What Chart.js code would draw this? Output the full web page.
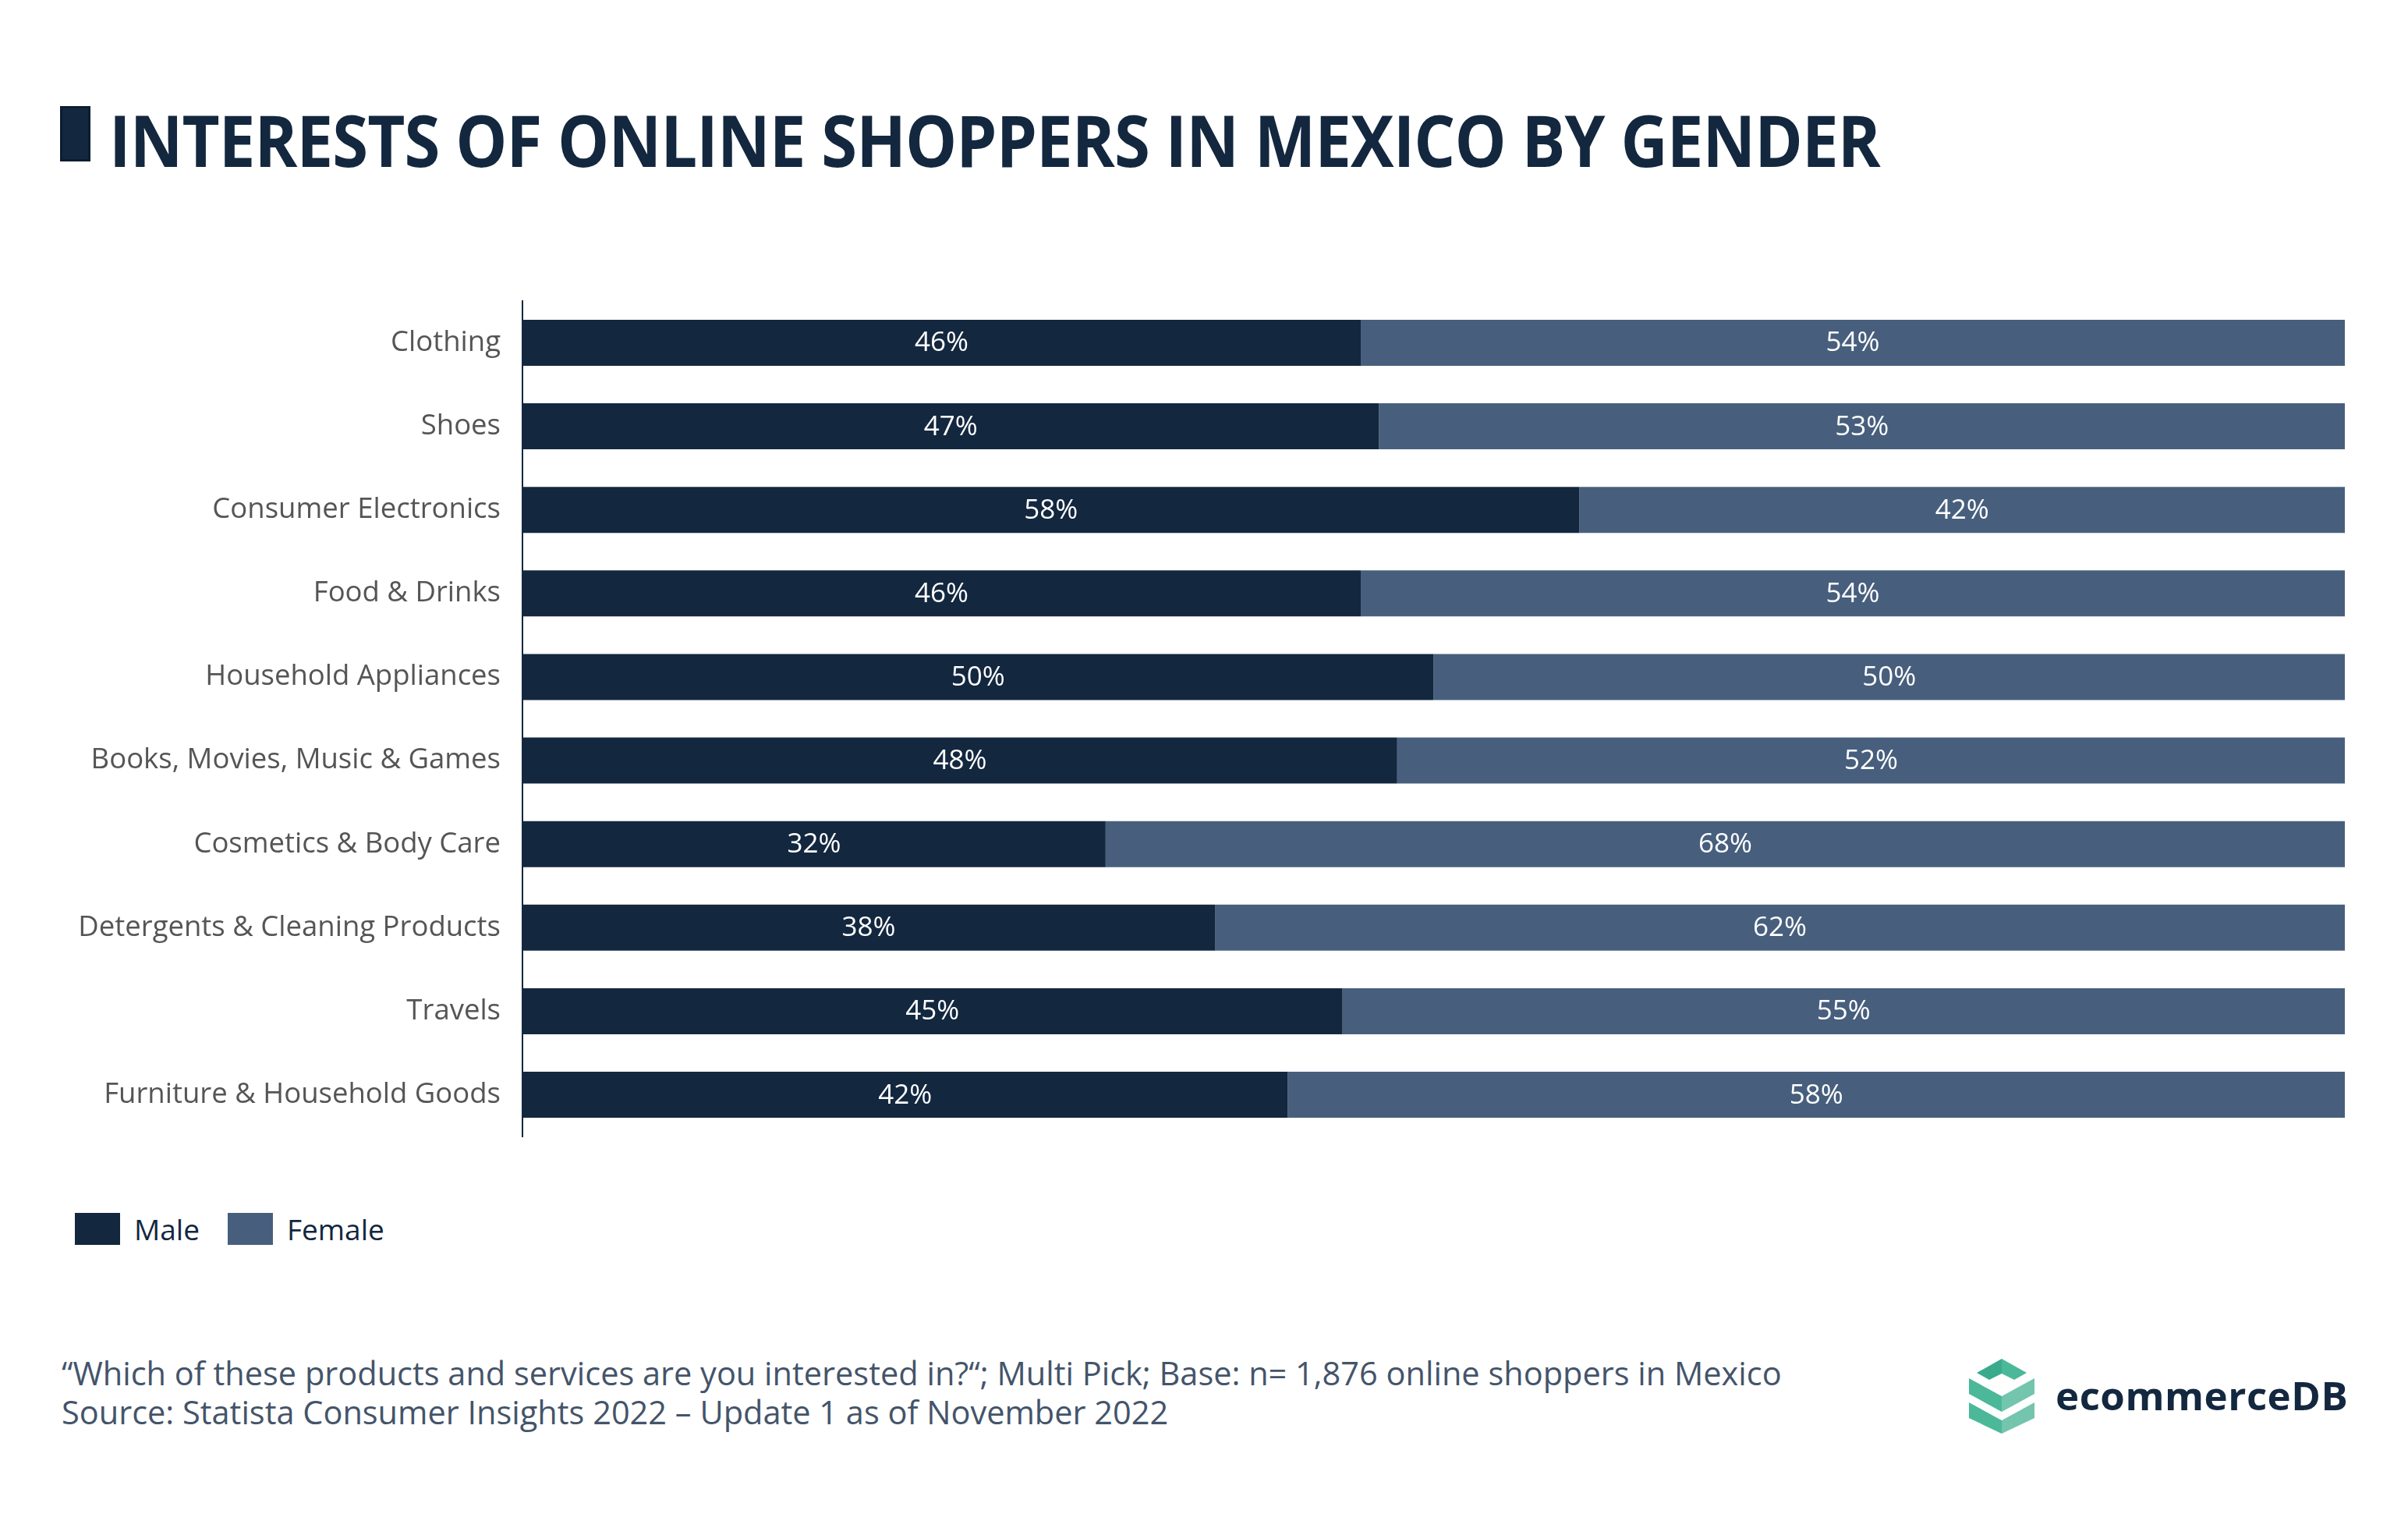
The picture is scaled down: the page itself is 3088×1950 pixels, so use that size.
<!DOCTYPE html>
<html>
<head>
<meta charset="utf-8">
<script src="https://cdn.jsdelivr.net/npm/chart.js@4.4.0/dist/chart.umd.min.js"></script>
<style>
  html, body { margin: 0; padding: 0; background: #fff; }
  body { width: 3088px; height: 1950px; position: relative; overflow: hidden; font-family: "Open Sans", sans-serif; }
  #mark { position: absolute; left: 77px; top: 136px; width: 39px; height: 71px; background: #13273f; box-sizing: border-box; border: 3px solid #0d1d30; }
  #title { position: absolute; left: 140px; top: 116px; font-size: 92px; font-weight: 700; color: #13273f; white-space: nowrap; letter-spacing: -1px; transform: scaleX(0.905); transform-origin: 0 0; }
  #wrap { position: absolute; left: 0; top: 336px; width: 3007px; height: 1171px; }
  #legend { position: absolute; left: 96px; top: 1550px; display: flex; align-items: center; font-size: 37px; color: #13273f; }
  #legend .item { display: flex; align-items: center; margin-right: 36px; }
  #legend .sw { width: 58px; height: 41px; margin-right: 18px; }
  #foot { position: absolute; left: 79px; top: 1735px; font-size: 41.5px; line-height: 50px; color: #44546a; white-space: nowrap; }
  #logo { position: absolute; left: 2524px; top: 1742px; }
  #logotext { position: absolute; left: 2636px; top: 1753px; font-size: 51px; font-weight: 700; color: #13273f; letter-spacing: 0.5px; }
</style>
</head>
<body>
<div id="mark"></div>
<div id="title">INTERESTS OF ONLINE SHOPPERS IN MEXICO BY GENDER</div>
<div id="wrap"><canvas id="chart"></canvas></div>
<div id="legend"></div>
<div id="foot">“Which of these products and services are you interested in?“; Multi Pick; Base: n= 1,876 online shoppers in Mexico<br>Source: Statista Consumer Insights 2022 – Update 1 as of November 2022</div>
<svg id="logo" width="86" height="96" viewBox="0 0 84 96">
  <polygon points="10,18 42,0 42,19 26,27" fill="#3aaa8c"/>
  <polygon points="42,0 74,18 58,27 42,19" fill="#4cb89a"/>
  <polygon points="0,25 42,48 42,68 0,45" fill="#4cb89a"/>
  <polygon points="42,48 84,25 84,45 42,68" fill="#73c5ad"/>
  <polygon points="0,56 42,79 42,96 0,76" fill="#4cb89a"/>
  <polygon points="42,79 84,56 84,76 42,96" fill="#73c5ad"/>
</svg>
<div id="logotext">ecommerceDB</div>
<script>
const categories = ['Clothing', 'Shoes', 'Consumer Electronics', 'Food & Drinks', 'Household Appliances',
  'Books, Movies, Music & Games', 'Cosmetics & Body Care', 'Detergents & Cleaning Products', 'Travels',
  'Furniture & Household Goods'];
const male = [46, 47, 58, 46, 50, 48, 32, 38, 45, 42];
const female = [54, 53, 42, 54, 50, 52, 68, 62, 55, 58];
const seriesNames = ['Male', 'Female'];
const seriesColors = ['#13273f', '#475f7d'];

// draws the value in the middle of each bar segment
const barLabels = {
  id: 'barLabels',
  afterDatasetsDraw(chart){
    const ctx = chart.ctx;
    ctx.save();
    ctx.fillStyle = '#ffffff';
    ctx.font = '35px "Open Sans"';
    ctx.textAlign = 'center';
    ctx.textBaseline = 'middle';
    chart.data.datasets.forEach((ds, i) => {
      chart.getDatasetMeta(i).data.forEach((bar, j) => {
        const p = bar.getProps(['x', 'y', 'base']);
        ctx.fillText(ds.data[j] + '%', (p.x + p.base) / 2, p.y + 1);
      });
    });
    ctx.restore();
  }
};

new Chart(document.getElementById('chart'), {
  type: 'bar',
  data: {
    labels: categories,
    datasets: [
      { label: seriesNames[0], data: male, backgroundColor: seriesColors[0] },
      { label: seriesNames[1], data: female, backgroundColor: seriesColors[1] }
    ]
  },
  options: {
    indexAxis: 'y',
    responsive: true,
    maintainAspectRatio: false,
    animation: false,
    barPercentage: 0.55,
    categoryPercentage: 1,
    layout: { padding: 0 },
    plugins: { legend: { display: false }, tooltip: { enabled: false } },
    scales: {
      x: { stacked: true, min: 0, max: 100, display: false },
      y: {
        stacked: true,
        grid: { display: false, drawTicks: false },
        border: { display: true, color: '#13273f', width: 2 },
        ticks: { color: '#555555', font: { family: 'Open Sans', size: 36.5 }, padding: 28 },
        afterFit(scale){ scale.width = 670; }
      }
    }
  },
  plugins: [barLabels]
});

const legend = document.getElementById('legend');
seriesNames.forEach((name, i) => {
  const item = document.createElement('div');
  item.className = 'item';
  item.innerHTML = '<div class="sw" style="background:' + seriesColors[i] + '"></div><span>' + name + '</span>';
  legend.appendChild(item);
});
</script>
</body>
</html>
